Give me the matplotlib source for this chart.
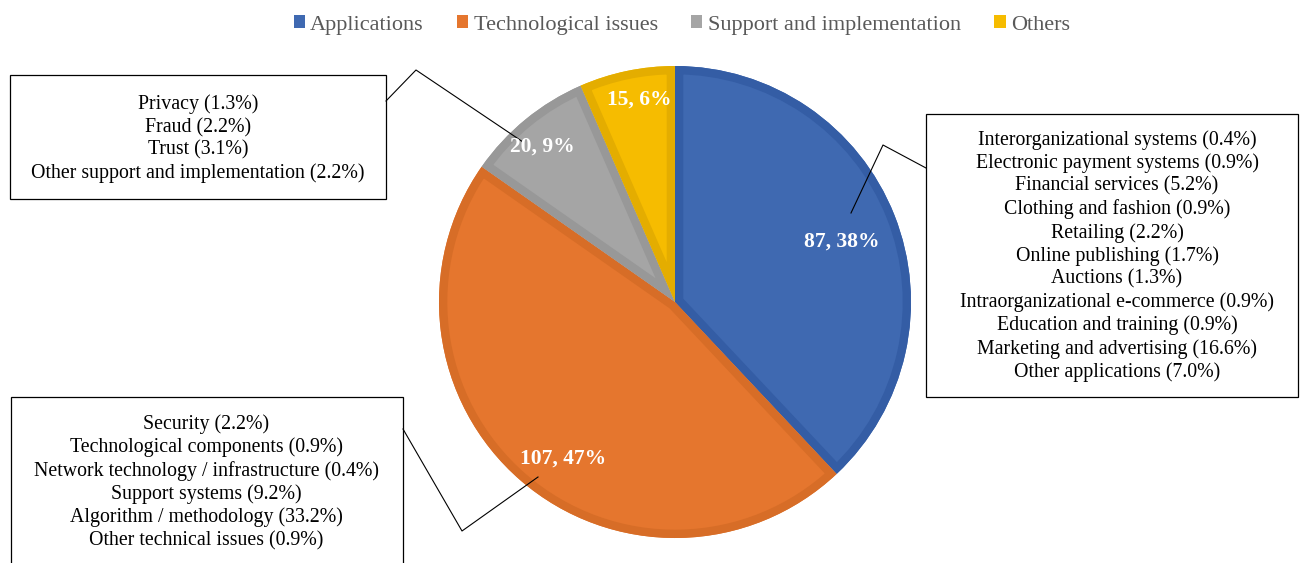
import matplotlib
matplotlib.use('agg')

import matplotlib.pyplot as plt
from matplotlib.patches import Patch, Rectangle, Wedge
import numpy as np

# Data
categories = ["Applications", "Technological issues", "Support and implementation", "Others"]
counts = [87, 107, 20, 15]
percents = [38, 47, 9, 6]

applications = [
    ("Interorganizational systems", 0.4),
    ("Electronic payment systems", 0.9),
    ("Financial services", 5.2),
    ("Clothing and fashion", 0.9),
    ("Retailing", 2.2),
    ("Online publishing", 1.7),
    ("Auctions", 1.3),
    ("Intraorganizational e-commerce", 0.9),
    ("Education and training", 0.9),
    ("Marketing and advertising", 16.6),
    ("Other applications", 7.0),
]
tech_issues = [
    ("Security", 2.2),
    ("Technological components", 0.9),
    ("Network technology / infrastructure", 0.4),
    ("Support systems", 9.2),
    ("Algorithm / methodology", 33.2),
    ("Other technical issues", 0.9),
]
support_impl = [
    ("Privacy", 1.3),
    ("Fraud", 2.2),
    ("Trust", 3.1),
    ("Other support and implementation", 2.2),
]

fill_colors = ["#3F69B1", "#E5762E", "#A5A5A5", "#F6BC00"]
edge_colors = ["#345DA5", "#D76D27", "#989898", "#E4AD00"]

plt.rcParams['font.family'] = ['Liberation Serif', 'DejaVu Serif']

W, H = 1300, 563
fig = plt.figure(figsize=(13, 5.63), dpi=100)
ax = fig.add_axes([0, 0, 1, 1])


def py(y):
    # convert pixel row (from top) to axis y
    return H - y


# Pie
cx, cy, R = 675, py(302), 236
wedges, _ = ax.pie(counts, colors=fill_colors, startangle=90, counterclock=False,
                   center=(cx, cy), radius=R, frame=True)
ax.set_xlim(0, W)
ax.set_ylim(0, H)
ax.axis('off')

# inner darker border of each slice (stroke clipped to the slice itself)
for w, ec in zip(wedges, edge_colors):
    w.set_linewidth(0)
    b = Wedge((cx, cy), R, w.theta1, w.theta2, facecolor='none',
              edgecolor=ec, linewidth=12, joinstyle='miter')
    ax.add_patch(b)
    b.set_clip_on(True)
    b.set_clip_path(w)

# Data labels (distance from centre as fraction of radius, angle tweak in degrees)
label_dist = [0.755, 0.81, 0.87, 0.878]
label_turn = [-1.2, 5.0, 0.8, -1.8]
for w, c, p, d, t in zip(wedges, counts, percents, label_dist, label_turn):
    ang = np.deg2rad((w.theta1 + w.theta2) / 2 + t)
    ax.text(cx + d * R * np.cos(ang), cy + d * R * np.sin(ang) - 2, f"{c}, {p}%",
            ha='center', va='center', color='white', fontsize=15.5, fontweight='bold')

# Callout boxes
boxes = [
    (support_impl, (10, 75, 386, 199), (198, 139),
     [(386, 101), (416, 70), (523, 142)]),
    (applications, (926, 114, 1298, 397), (1117, 256),
     [(926, 168), (883, 145), (851, 213)]),
    (tech_issues, (11, 397, 403, 575), (206, 482),
     [(403, 429), (462, 531), (538, 477)]),
]
for items, (x0, y0, x1, y1), (tx, ty), leader in boxes:
    ax.add_patch(Rectangle((x0, py(y1)), x1 - x0, y1 - y0, fill=False,
                           edgecolor='black', linewidth=0.9, clip_on=False))
    txt = "\n".join(f"{name} ({v:.1f}%)" for name, v in items)
    ax.text(tx, py(ty), txt, ha='center', va='center', fontsize=14.3,
            linespacing=1.245, color='black')
    lx, ly = zip(*leader)
    ax.plot(lx, [py(v) for v in ly], color='black', linewidth=0.8)

# Legend
handles = [Patch(facecolor=c, edgecolor='none') for c in fill_colors]
fig.legend(handles, categories, loc='upper center', bbox_to_anchor=(0.5245, 1.008),
           ncol=4, frameon=False, fontsize=16, labelcolor='#595959',
           handlelength=0.5, handleheight=0.5, handletextpad=0.25, columnspacing=1.5)

fig.savefig("out.png", dpi=100)
